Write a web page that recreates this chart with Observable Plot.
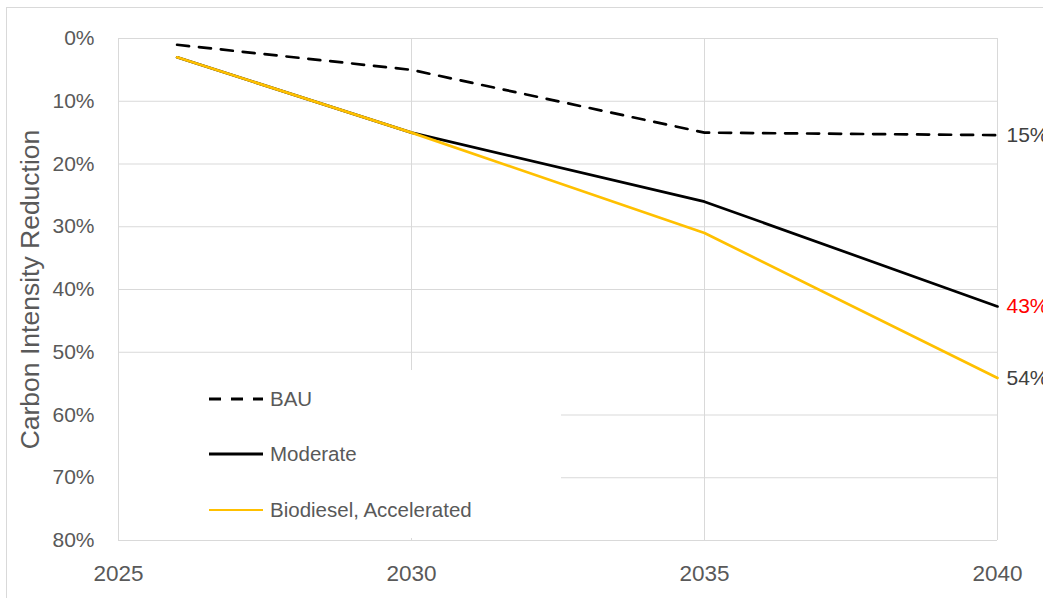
<!DOCTYPE html>
<html>
<head>
<meta charset="utf-8">
<script src="https://cdn.jsdelivr.net/npm/d3@7"></script>
<script src="https://cdn.jsdelivr.net/npm/@observablehq/plot@0.6"></script>
<style>
  html, body { margin: 0; padding: 0; background: #fff; overflow: hidden; }
  #chart { position: relative; width: 1043px; height: 598px; font-family: "Liberation Sans", Arial, sans-serif; }
  #frame { position: absolute; left: 6px; top: 7px; width: 1100px; height: 700px; border: 1px solid #d9d9d9; box-sizing: border-box; }
  #plot { position: absolute; left: 0; top: 0; }
  #legend { position: absolute; left: 119px; top: 370px; width: 442px; height: 168px; background: #fff; }
  .item { position: absolute; left: 90px; height: 24px; display: flex; align-items: center; transform: translateY(-50%); }
  .item svg { width: 54px; height: 6px; margin-right: 7px; }
  .item span { font-size: 20.5px; color: #595959; white-space: nowrap; }
</style>
</head>
<body>
<div id="chart">
  <div id="frame"></div>
  <div id="plot"></div>
  <div id="legend"></div>
</div>
<script>
// Scenario years and carbon-intensity reduction (%) per scenario
const years = [2026, 2030, 2035, 2040];
const bau = [1, 5, 15, 15.4];
const moderate = [3, 15, 26, 42.7];
const accelerated = [3, 15, 31, 54.1];

const seriesNames = ["BAU", "Moderate", "Biodiesel, Accelerated"];
const seriesColors = ["#000000", "#000000", "#FFC000"];
const seriesDash = ["12,10", null, null];
const endLabelColors = ["#404040", "#FF0000", "#404040"];

const xTicks = [2025, 2030, 2035, 2040];
const yTicks = [0, 10, 20, 30, 40, 50, 60, 70, 80];
const yTitle = "Carbon Intensity Reduction";

const seriesValues = [bau, moderate, accelerated];
const rows = seriesValues.map((vals, s) =>
  years.map((year, i) => ({ series: seriesNames[s], year, value: vals[i] }))
);
const endPoints = seriesValues.map((vals, s) => ({
  year: years[years.length - 1],
  value: vals[vals.length - 1],
  color: endLabelColors[s]
}));

const lineMark = (s) => Plot.line(rows[s], {
  x: "year", y: "value",
  stroke: seriesColors[s], strokeWidth: 2.7,
  strokeDasharray: seriesDash[s] || undefined,
  strokeLinejoin: "round"
});

const chart = Plot.plot({
  width: 1043, height: 598,
  marginLeft: 118, marginRight: 46, marginTop: 38, marginBottom: 58,
  x: { domain: [2025, 2040] },
  y: { domain: [0, 80], reverse: true },
  color: { type: "identity" },
  style: { fontFamily: "Liberation Sans, Arial, sans-serif", fontSize: "21px", color: "#595959", background: "transparent", overflow: "visible" },
  marks: [
    Plot.ruleX(xTicks, { stroke: "#d9d9d9", strokeWidth: 1 }),
    Plot.ruleY(yTicks, { stroke: "#d9d9d9", strokeWidth: 1 }),
    Plot.axisX({ ticks: xTicks, tickSize: 0, tickPadding: 25, tickFormat: d => String(d), label: null, fontSize: 22.5 }),
    Plot.axisY({ ticks: yTicks, tickSize: 0, tickPadding: 24, tickFormat: d => d + "%", label: null, fontSize: 21 }),
    Plot.text([yTitle], { text: d => d, frameAnchor: "left", textAnchor: "middle", rotate: -90, dx: -88, fontSize: 26.5, fill: "#595959" }),
    lineMark(0),
    lineMark(1),
    lineMark(2),
    Plot.text(endPoints, {
      x: "year", y: "value",
      text: d => Math.round(d.value) + "%",
      fill: "color", textAnchor: "start", dx: 9, fontSize: 21
    })
  ]
});
document.getElementById("plot").appendChild(chart);

// Legend drawn inside the plot area on a white panel
const legend = document.getElementById("legend");
const rowOffsets = [29, 84, 140];
seriesNames.forEach((name, s) => {
  const item = document.createElement("div");
  item.className = "item";
  item.style.top = rowOffsets[s] + "px";
  const dash = seriesDash[s] ? ` stroke-dasharray="12,10"` : "";
  const w = s === 2 ? 2.2 : 3;
  item.innerHTML = `<svg viewBox="0 0 54 6"><line x1="0" y1="3" x2="54" y2="3" stroke="${seriesColors[s]}" stroke-width="${w}"${dash}/></svg><span>${name}</span>`;
  legend.appendChild(item);
});
</script>
</body>
</html>
